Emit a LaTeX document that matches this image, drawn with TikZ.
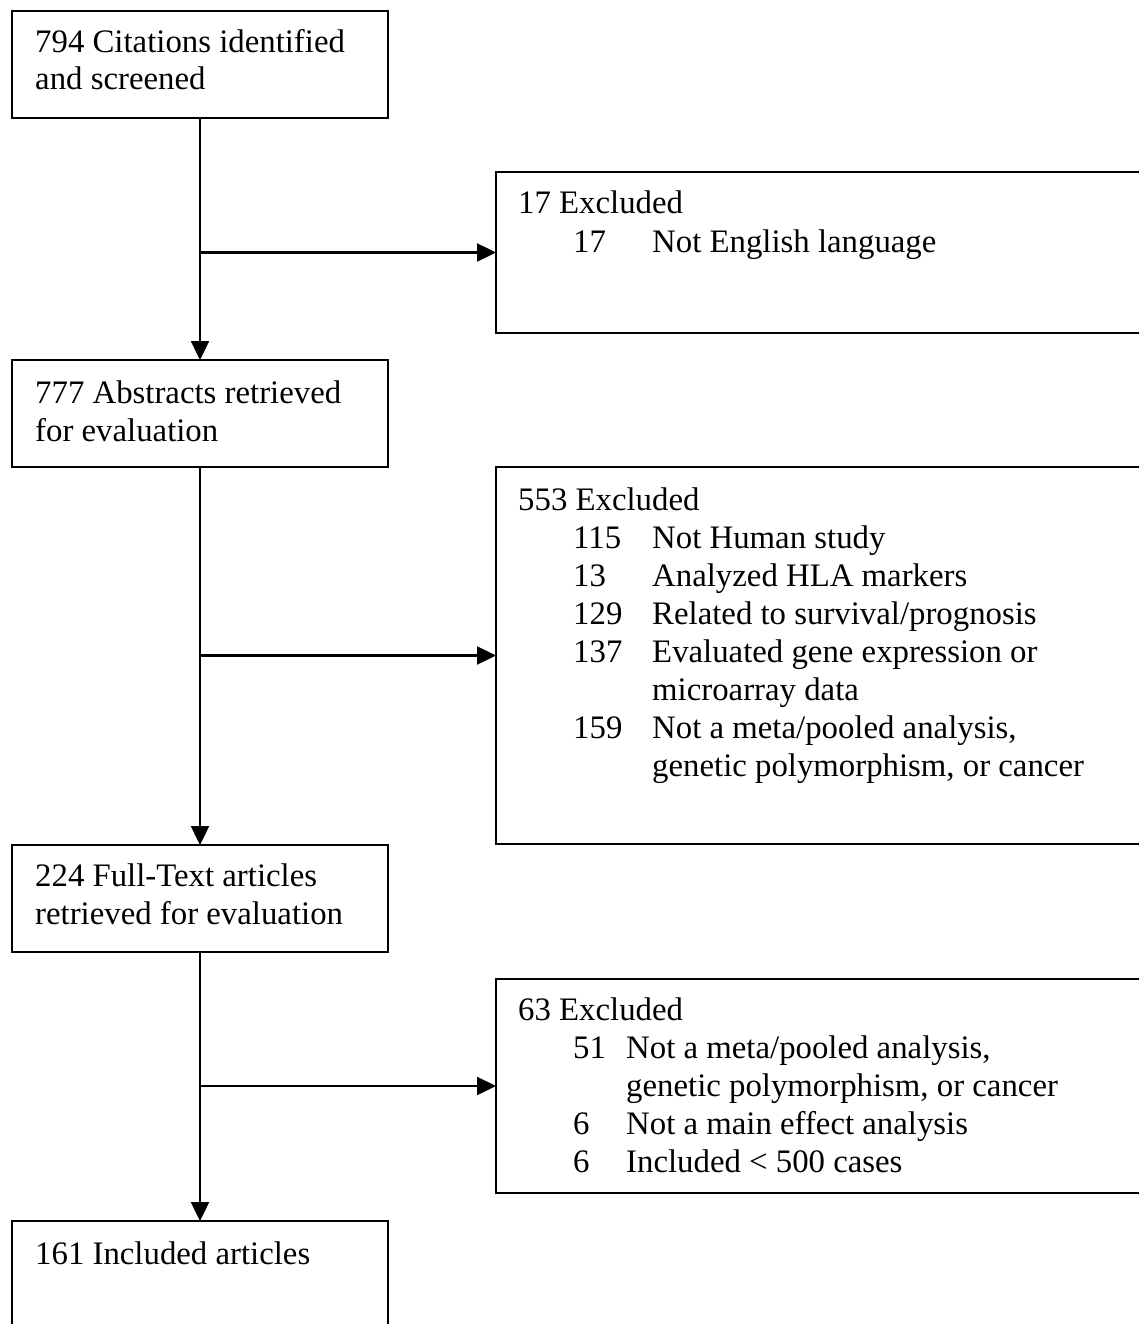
\documentclass[tikz,border=0pt]{standalone}
\usepackage{fontspec}
\setmainfont{Liberation Serif}
\usetikzlibrary{arrows.meta}
\begin{document}
\begin{tikzpicture}[x=1pt,y=-1pt,
  box/.style={draw, line width=2.2pt, rectangle, inner sep=0pt, outer sep=0pt, anchor=north west},
  txt/.style={inner sep=0pt, anchor=base west, font=\fontsize{32.8}{38}\selectfont},
  arr/.style={line width=2.4pt, -{Triangle[length=19pt,width=18pt]}}]
\useasboundingbox (0,0) rectangle (1139,1324);
\clip (0,0) rectangle (1139,1324);
% boxes
\node[box, minimum width=376pt, minimum height=107pt] (b1) at (12,11) {};
\node[box, minimum width=680pt, minimum height=161pt] (b2) at (496,172) {};
\node[box, minimum width=376pt, minimum height=107pt] (b3) at (12,360) {};
\node[box, minimum width=680pt, minimum height=377pt] (b4) at (496,467) {};
\node[box, minimum width=376pt, minimum height=107pt] (b5) at (12,845) {};
\node[box, minimum width=680pt, minimum height=214pt] (b6) at (496,979) {};
\node[box, minimum width=376pt, minimum height=140pt] (b7) at (12,1221) {};
% texts
\node[txt] (t1a) at (35,53) {794 Citations identified};
\node[txt] (t1b) at (35,90) {and screened};
\node[txt] (t2a) at (518,214) {17 Excluded};
\node[txt] (t2b) at (573,252) {17};
\node[txt] (t2c) at (652,252) {Not English language};
\node[txt] (t3a) at (35,403) {777 Abstracts retrieved};
\node[txt] (t3b) at (35,441) {for evaluation};
\node[txt] (t4a) at (518,510) {553 Excluded};
\node[txt] (t4b) at (573,548) {115};
\node[txt] (t4c) at (652,548) {Not Human study};
\node[txt] (t4d) at (573,586) {13};
\node[txt] (t4e) at (652,586) {Analyzed HLA markers};
\node[txt] (t4f) at (573,624) {129};
\node[txt] (t4g) at (652,624) {Related to survival/prognosis};
\node[txt] (t4h) at (573,662) {137};
\node[txt] (t4i) at (652,662) {Evaluated gene expression or};
\node[txt] (t4j) at (652,700) {microarray data};
\node[txt] (t4k) at (573,738) {159};
\node[txt] (t4l) at (652,738) {Not a meta/pooled analysis,};
\node[txt] (t4m) at (652,776) {genetic polymorphism, or cancer};
\node[txt] (t5a) at (35,886) {224 Full-Text articles};
\node[txt] (t5b) at (35,924) {retrieved for evaluation};
\node[txt] (t6a) at (518,1020) {63 Excluded};
\node[txt] (t6b) at (573,1058) {51};
\node[txt] (t6c) at (626,1058) {Not a meta/pooled analysis,};
\node[txt] (t6d) at (626,1096) {genetic polymorphism, or cancer};
\node[txt] (t6e) at (573,1134) {6};
\node[txt] (t6f) at (626,1134) {Not a main effect analysis};
\node[txt] (t6g) at (573,1172) {6};
\node[txt] (t6h) at (626,1172) {Included < 500 cases};
\node[txt] (t7a) at (35,1264) {161 Included articles};
% connectors
\coordinate (j1) at (b1.south |- b2.west);
\coordinate (j2) at (b3.south |- b4.west);
\coordinate (j3) at (b5.south |- b6.west);
\draw[arr] (b1.south) -- (b3.north);
\draw[arr] (j1) -- (b2.west);
\draw[arr] (b3.south) -- (b5.north);
\draw[arr] (j2) -- (b4.west);
\draw[arr] (b5.south) -- (b7.north);
\draw[arr] (j3) -- (b6.west);
\end{tikzpicture}
\end{document}
